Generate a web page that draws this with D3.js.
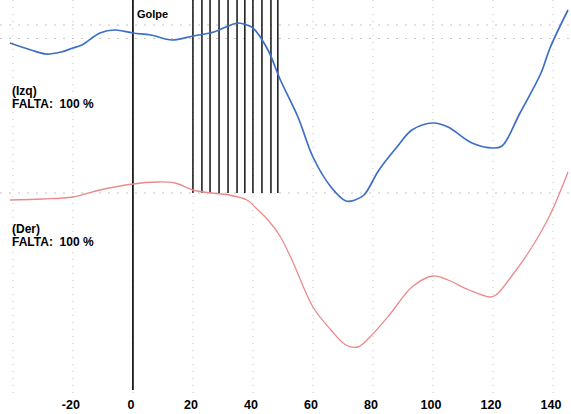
<!DOCTYPE html>
<html>
<head>
<meta charset="utf-8">
<script src="https://cdn.jsdelivr.net/npm/d3@7"></script>
<style>
  body { margin: 0; background: #fff; }
  text { font-family: "Liberation Sans", Arial, sans-serif; font-weight: bold; fill: #000; }
</style>
</head>
<body>
<div id="chart"></div>
<script>
// time (% of cycle) and angle values
var izqX = [-41, -34, -29, -24, -20, -17, -11, -6, 0, 6, 13, 20, 27, 31, 35, 38, 40, 45, 49, 55, 60, 66, 71, 74, 77, 82, 88, 93, 100, 105, 113, 120, 123, 129, 136, 139, 145];
var izqY = [78.5, 75, 73, 74, 76, 77.5, 83.5, 85, 83.5, 82.5, 80, 82, 84, 86.5, 88.5, 87.5, 86, 75, 60.5, 41.5, 21.5, 6.5, -0.5, 0, 2.5, 15, 26.5, 35, 38.5, 36.5, 28.5, 26, 27, 43.5, 63.5, 76, 95];

var derX = [-41, -30, -20, -11, 0, 8, 14, 20, 26, 32, 38, 41, 45, 49, 53, 60, 66, 71, 75, 79, 86, 93, 100, 105, 112, 119, 121, 127, 133, 139, 145];
var derY = [0, 0.5, 1.5, 5, 8, 9, 8.5, 5, 3.5, 2.5, 0, -4, -10, -18, -30, -53.5, -65, -72.5, -73.5, -68.5, -56.5, -43.5, -38, -40, -45, -48.5, -47.5, -36.5, -23.5, -7.5, 14];

var xTicks = [-40, -20, 0, 20, 40, 60, 80, 100, 120, 140];
var xLabels = ["", "-20", "0", "20", "40", "60", "80", "100", "120", "140"];
var golpeX = 0;
var cycleLines = [20, 23, 25.7, 28.7, 31.7, 34.7, 37.3, 40, 43, 46, 48.3];
var refLevels = [87.5, 80.75, 3.5];

var width = 571, height = 414;

var x = d3.scaleLinear().domain([-44.3, 146]).range([0, width]);
var y = d3.scaleLinear().domain([-107, 100]).range([height, 0]);

var svg = d3.select("#chart").append("svg")
    .attr("width", width)
    .attr("height", height);

/* dotted grid */
svg.append("g").selectAll("line")
    .data(xTicks)
    .enter().append("line")
    .attr("x1", function(d) { return x(d) }).attr("x2", function(d) { return x(d) })
    .attr("y1", y(100)).attr("y2", y(-97.5))
    .attr("stroke", "#c4c4c4")
    .attr("stroke-width", 1)
    .attr("stroke-dasharray", "1,6");

svg.append("g").selectAll("line")
    .data(refLevels)
    .enter().append("line")
    .attr("x1", 0).attr("x2", width)
    .attr("y1", function(d) { return y(d) }).attr("y2", function(d) { return y(d) })
    .attr("stroke", "#c4c4c4")
    .attr("stroke-width", 1)
    .attr("stroke-dasharray", "2,7");

/* event lines */
svg.append("line")
    .attr("x1", x(golpeX)).attr("x2", x(golpeX))
    .attr("y1", y(100)).attr("y2", y(-95))
    .attr("stroke", "#000").attr("stroke-width", 1.6);

svg.append("g").selectAll("line")
    .data(cycleLines)
    .enter().append("line")
    .attr("x1", function(d) { return x(d) }).attr("x2", function(d) { return x(d) })
    .attr("y1", y(100)).attr("y2", y(3.5))
    .attr("stroke", "#000").attr("stroke-width", 1.4);

svg.append("text")
    .attr("x", x(golpeX) + 4).attr("y", 18)
    .style("font-size", "11px")
    .text("Golpe");

/* curves */
var line = d3.line()
    .x(function(d) { return x(d[0]) })
    .y(function(d) { return y(d[1]) })
    .curve(d3.curveCatmullRom.alpha(0.5));

svg.append("path")
    .datum(d3.zip(derX, derY))
    .attr("fill", "none")
    .attr("stroke", "#ea8a8c")
    .attr("stroke-width", 1.3)
    .attr("d", line);

svg.append("path")
    .datum(d3.zip(izqX, izqY))
    .attr("fill", "none")
    .attr("stroke", "#3d6fc6")
    .attr("stroke-width", 1.7)
    .attr("d", line);

/* side labels */
function sideLabel(top, name) {
    svg.append("text").attr("x", 12).attr("y", top).style("font-size", "12px").text(name);
    svg.append("text").attr("x", 12).attr("y", top + 13).style("font-size", "12px")
        .attr("xml:space", "preserve").text("FALTA:  100 %");
}
sideLabel(95, "(Izq)");
sideLabel(233, "(Der)");

/* x axis labels */
svg.append("g").selectAll("text")
    .data(xTicks)
    .enter().append("text")
    .attr("x", function(d) { return x(d) - 2 })
    .attr("y", 409)
    .attr("text-anchor", "middle")
    .style("font-size", "12.5px")
    .text(function(d, i) { return xLabels[i] });
</script>
</body>
</html>
